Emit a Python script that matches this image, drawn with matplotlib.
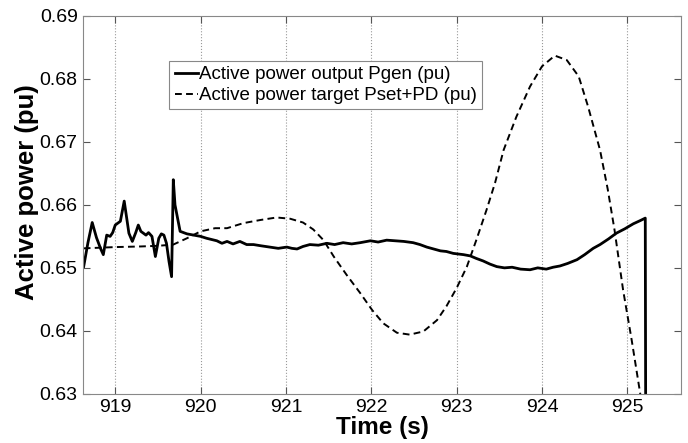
import matplotlib.pyplot as plt
import numpy as np

plt.rcParams["font.family"] = ["Liberation Sans", "DejaVu Sans"]

# Active power output Pgen (pu)
t_gen = [918.63, 918.68, 918.73, 918.78, 918.83, 918.86, 918.90, 918.94, 918.97, 919.00,
         919.06, 919.105, 919.16, 919.20, 919.24, 919.27, 919.30, 919.33, 919.36, 919.39,
         919.43, 919.47, 919.51, 919.54, 919.57, 919.60, 919.63, 919.66, 919.675, 919.68,
         919.70, 919.76, 919.84, 919.92, 920.00, 920.07, 920.13, 920.19, 920.25, 920.31,
         920.38, 920.46, 920.54, 920.62, 920.71, 920.81, 920.91, 921.01, 921.07, 921.13,
         921.20, 921.28, 921.38, 921.48, 921.57, 921.67, 921.77, 921.87, 921.99, 922.08,
         922.18, 922.28, 922.38, 922.49, 922.57, 922.65, 922.73, 922.81, 922.88, 922.96,
         923.08, 923.16, 923.23, 923.31, 923.39, 923.47, 923.56, 923.65, 923.75, 923.86,
         923.95, 924.05, 924.13, 924.21, 924.30, 924.41, 924.50, 924.60, 924.68, 924.78,
         924.87, 924.97, 925.07, 925.15, 925.21, 925.215]
p_gen = [0.6502, 0.6540, 0.6572, 0.6548, 0.6530, 0.6521, 0.6552, 0.6550, 0.6556, 0.6568,
         0.6574, 0.6606, 0.6555, 0.6542, 0.6556, 0.6568, 0.6558, 0.6555, 0.6552, 0.6556,
         0.6550, 0.6518, 0.6547, 0.6554, 0.6552, 0.6539, 0.6510, 0.6486, 0.6600, 0.6640,
         0.6600, 0.6558, 0.6554, 0.6552, 0.6550, 0.6547, 0.6545, 0.6543, 0.6539, 0.6542,
         0.6538, 0.6542, 0.6537, 0.6537, 0.6535, 0.6533, 0.6531, 0.6533, 0.6531, 0.6530,
         0.6534, 0.6537, 0.6536, 0.6539, 0.6537, 0.6540, 0.6538, 0.6540, 0.6543, 0.6541,
         0.6544, 0.6543, 0.6542, 0.6540, 0.6537, 0.6533, 0.6530, 0.6527, 0.6526, 0.6523,
         0.6521, 0.6519, 0.6515, 0.6511, 0.6506, 0.6502, 0.6500, 0.6501, 0.6498, 0.6497,
         0.6500, 0.6498, 0.6501, 0.6503, 0.6507, 0.6513, 0.6521, 0.6531, 0.6537, 0.6546,
         0.6555, 0.6562, 0.6570, 0.6575, 0.6579, 0.6250]

# Active power target Pset+PD (pu)
t_set = [918.63, 919.00, 919.30, 919.50, 919.68, 919.84, 920.00, 920.17, 920.31, 920.50,
         920.70, 920.89, 921.05, 921.20, 921.32, 921.44, 921.56, 921.71, 921.87, 922.01,
         922.14, 922.30, 922.45, 922.61, 922.77, 922.88, 923.00, 923.12, 923.23, 923.35,
         923.45, 923.55, 923.70, 923.86, 924.00, 924.15, 924.29, 924.43, 924.54, 924.68,
         924.77, 924.85, 924.95, 925.05, 925.15, 925.18]
p_set = [0.6531, 0.6533, 0.6534, 0.6535, 0.6537, 0.6547, 0.6558, 0.6563, 0.6563, 0.6571,
         0.6576, 0.6580, 0.6578, 0.6572, 0.6561, 0.6544, 0.6518, 0.6489, 0.6460, 0.6433,
         0.6412, 0.6397, 0.6394, 0.6399, 0.6417, 0.6439, 0.6468, 0.6502, 0.6544, 0.6592,
         0.6635, 0.6687, 0.6740, 0.6788, 0.6820, 0.6837, 0.6830, 0.6804, 0.6756, 0.6687,
         0.6625, 0.6560, 0.6465, 0.6386, 0.6301, 0.6270]

fig, ax = plt.subplots(figsize=(6.88, 4.43), dpi=100)
fig.subplots_adjust(left=0.121, right=0.99, top=0.964, bottom=0.111)

ax.plot(t_gen, p_gen, color="black", linewidth=2.0,
        label="Active power output Pgen (pu)")
ax.plot(t_set, p_set, color="black", linewidth=1.4, linestyle=(0, (3.5, 2.2)),
        label="Active power target Pset+PD (pu)")

ax.set_xlim(918.625, 925.63)
ax.set_ylim(0.63, 0.69)
ax.set_xticks(np.arange(919, 926, 1))
ax.set_yticks(np.arange(0.63, 0.6901, 0.01))
ax.set_yticklabels([f"{v:.2f}" for v in np.arange(0.63, 0.6901, 0.01)])

ax.grid(axis="x", color="#999999", linestyle=":", linewidth=0.8)
ax.tick_params(direction="in", length=5, labelsize=14, top=True, right=True,
               color="#555555", pad=4)
for s in ax.spines.values():
    s.set_color("#888888")

ax.set_xlabel("Time (s)", fontsize=17.5, fontweight="bold", labelpad=0)
ax.set_ylabel("Active power (pu)", fontsize=18.5, fontweight="bold")
ax.yaxis.set_label_coords(-0.074, 0.534)

leg = ax.legend(loc="upper left", bbox_to_anchor=(0.144, 0.881), fontsize=13.5,
                handlelength=1.25, handletextpad=0.05, borderpad=0.28,
                borderaxespad=0, labelspacing=0.2, fancybox=False, framealpha=1)
leg.get_frame().set_edgecolor("#888888")
leg.get_frame().set_linewidth(0.8)

fig.savefig("out.png", dpi=100)
